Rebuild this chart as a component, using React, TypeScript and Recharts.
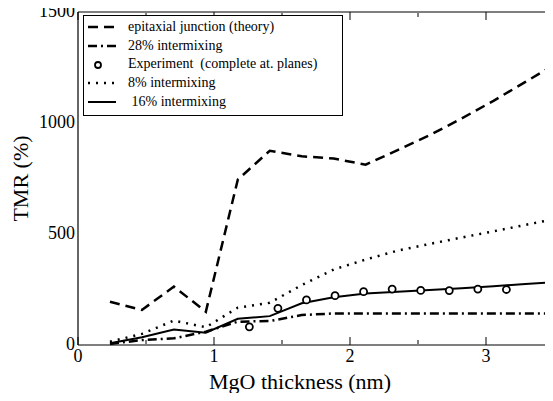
import { ComposedChart, Legend, Line, XAxis, YAxis } from "recharts";

// theory curves (MgO thickness in nm, TMR in %)
const thickness = [0.235, 0.47, 0.705, 0.94, 1.175, 1.41, 1.645, 1.88, 2.115, 2.35, 2.585, 2.82, 3.055, 3.29, 3.5];
const epitaxial = [195, 158, 263, 150, 745, 875, 850, 840, 812, 878, 945, 1020, 1100, 1185, 1262];
const mix28 = [5, 22, 30, 60, 105, 108, 135, 142, 142, 142, 142, 142, 142, 142, 142];
const mix8 = [15, 50, 110, 80, 168, 190, 270, 340, 385, 425, 455, 484, 512, 541, 567];
const mix16 = [8, 35, 70, 55, 118, 130, 188, 215, 232, 240, 248, 256, 265, 275, 283];

// experiment (complete atomic planes)
const expThickness = [1.26, 1.47, 1.68, 1.89, 2.1, 2.31, 2.52, 2.73, 2.94, 3.15];
const expTmr = [82, 165, 203, 222, 240, 252, 246, 245, 252, 250];

const xMajor = [0, 1, 2, 3];
const xMinor = [0.5, 1.5, 2.5, 3.5];
const yMajor = [0, 500, 1000, 1500];
const yMinor = [250, 750, 1250];

const FONT = "Liberation Serif, serif";

const theoryData = thickness.map((t, i) => ({
  thickness: t,
  epitaxial: epitaxial[i],
  mix28: mix28[i],
  mix8: mix8[i],
  mix16: mix16[i],
}));

const expData = expThickness.map((t, i) => ({ thickness: t, tmr: expTmr[i] }));

const styles = {
  epitaxial: { dash: "10 6", width: 2.5 },
  mix28: { dash: "9 4 2 4", width: 2.5 },
  mix8: { dash: "2 6", width: 2.5 },
  mix16: { dash: undefined, width: 2 },
};

const legendItems = [
  { key: "epitaxial", label: "epitaxial junction (theory)" },
  { key: "mix28", label: "28% intermixing" },
  { key: "exp", label: "Experiment  (complete at. planes)" },
  { key: "mix8", label: "8% intermixing" },
  { key: "mix16", label: " 16% intermixing" },
];

function LegendBox() {
  return (
    <div
      style={{
        border: "1px solid #000",
        background: "#fff",
        width: 258,
        padding: "2px 0 3px 0",
        fontFamily: FONT,
        fontSize: 14,
        color: "#000",
        lineHeight: "18.7px",
      }}
    >
      {legendItems.map((it) => {
        const st = (styles as any)[it.key];
        return (
          <div key={it.key} style={{ display: "flex", alignItems: "center", whiteSpace: "pre" }}>
            <svg width={44} height={14} style={{ flex: "none" }}>
              {it.key === "exp" ? (
                <circle cx={14} cy={7} r={3} fill="#fff" stroke="#000" strokeWidth={1.8} />
              ) : (
                <line x1={4} x2={32} y1={7} y2={7} stroke="#000" strokeWidth={st.width} strokeDasharray={st.dash} />
              )}
            </svg>
            <span>{it.label}</span>
          </div>
        );
      })}
    </div>
  );
}

const blank = () => "";

const XTick = (p: any) => (
  <text x={p.x} y={p.y} dy="0.8em" textAnchor="middle" fill="#000" fontSize={18} fontFamily={FONT}>
    {p.payload.value}
  </text>
);

const YTick = (p: any) => (
  <text x={p.x} y={p.y} dy="0.3em" textAnchor="end" fill="#000" fontSize={18} fontFamily={FONT}>
    {p.payload.value}
  </text>
);

const XTitle = (p: any) => {
  const vb = p.viewBox;
  return (
    <text x={vb.x + vb.width / 2 - 16} y={vb.y + vb.height - 12} textAnchor="middle" fill="#000" fontSize={22} fontFamily={FONT}>
      MgO thickness (nm)
    </text>
  );
};

const YTitle = (p: any) => {
  const vb = p.viewBox;
  const cx = 20;
  const cy = vb.y + vb.height / 2;
  return (
    <text x={cx} y={cy} dy="0.35em" textAnchor="middle" transform={`rotate(-90, ${cx}, ${cy})`} fill="#000" fontSize={22} fontFamily={FONT}>
      TMR (%)
    </text>
  );
};

export default function App() {
  return (
    <div style={{ margin: -8, width: 553, height: 401, overflow: "hidden", background: "#fff" }}>
      <ComposedChart
        width={560}
        height={401}
        data={theoryData}
        margin={{ top: 12, right: 6, bottom: 0, left: 0 }}
      >
        <XAxis
          dataKey="thickness"
          type="number"
          domain={[0, 3.5]}
          ticks={xMajor}
          interval={0}
          height={56}
          stroke="#000"
          tickLine={false}
          tickSize={0}
          tickMargin={3}
          axisLine={{ stroke: "#000", strokeWidth: 1.2 }}
          tick={XTick}
          label={{ content: XTitle }}
        />
        <XAxis xAxisId="bMaj" dataKey="thickness" type="number" domain={[0, 3.5]} ticks={xMajor} interval={0} height={1} mirror tickSize={8} stroke="#000" axisLine={false} tickFormatter={blank} />
        <XAxis xAxisId="bMin" dataKey="thickness" type="number" domain={[0, 3.5]} ticks={xMinor} interval={0} height={1} mirror tickSize={4} stroke="#000" axisLine={false} tickFormatter={blank} />
        <XAxis xAxisId="tMaj" orientation="top" dataKey="thickness" type="number" domain={[0, 3.5]} ticks={xMajor} interval={0} height={1} mirror tickSize={8} stroke="#000" axisLine={{ stroke: "#000", strokeWidth: 1.2 }} tickFormatter={blank} />
        <XAxis xAxisId="tMin" orientation="top" dataKey="thickness" type="number" domain={[0, 3.5]} ticks={xMinor} interval={0} height={1} mirror tickSize={4} stroke="#000" axisLine={false} tickFormatter={blank} />

        <YAxis
          type="number"
          domain={[0, 1500]}
          ticks={yMajor}
          interval={0}
          width={78}
          stroke="#000"
          tickLine={false}
          tickSize={0}
          tickMargin={3}
          axisLine={{ stroke: "#000", strokeWidth: 1.2 }}
          tick={YTick}
          label={{ content: YTitle }}
        />
        <YAxis yAxisId="lMaj" type="number" domain={[0, 1500]} ticks={yMajor} interval={0} width={1} mirror tickSize={8} stroke="#000" axisLine={false} tickFormatter={blank} />
        <YAxis yAxisId="lMin" type="number" domain={[0, 1500]} ticks={yMinor} interval={0} width={1} mirror tickSize={4} stroke="#000" axisLine={false} tickFormatter={blank} />
        <YAxis yAxisId="rMaj" orientation="right" type="number" domain={[0, 1500]} ticks={yMajor} interval={0} width={1} mirror tickSize={8} stroke="#000" axisLine={{ stroke: "#000", strokeWidth: 1.2 }} tickFormatter={blank} />
        <YAxis yAxisId="rMin" orientation="right" type="number" domain={[0, 1500]} ticks={yMinor} interval={0} width={1} mirror tickSize={4} stroke="#000" axisLine={false} tickFormatter={blank} />

        <Legend
          verticalAlign="middle"
          layout="horizontal"
          content={() => <LegendBox />}
          wrapperStyle={{ top: 15, left: 83, width: "auto" }}
        />

        <Line type="linear" dataKey="epitaxial" stroke="#000" strokeWidth={styles.epitaxial.width} strokeDasharray={styles.epitaxial.dash} dot={false} isAnimationActive={false} />
        <Line type="linear" dataKey="mix28" stroke="#000" strokeWidth={styles.mix28.width} strokeDasharray={styles.mix28.dash} dot={false} isAnimationActive={false} />
        <Line type="linear" dataKey="mix8" stroke="#000" strokeWidth={styles.mix8.width} strokeDasharray={styles.mix8.dash} dot={false} isAnimationActive={false} />
        <Line type="linear" dataKey="mix16" stroke="#000" strokeWidth={styles.mix16.width} dot={false} isAnimationActive={false} />
        <Line
          data={expData}
          type="linear"
          dataKey="tmr"
          stroke="none"
          dot={{ r: 3.5, fill: "#fff", stroke: "#000", strokeWidth: 1.8 }}
          isAnimationActive={false}
        />
      </ComposedChart>
    </div>
  );
}
